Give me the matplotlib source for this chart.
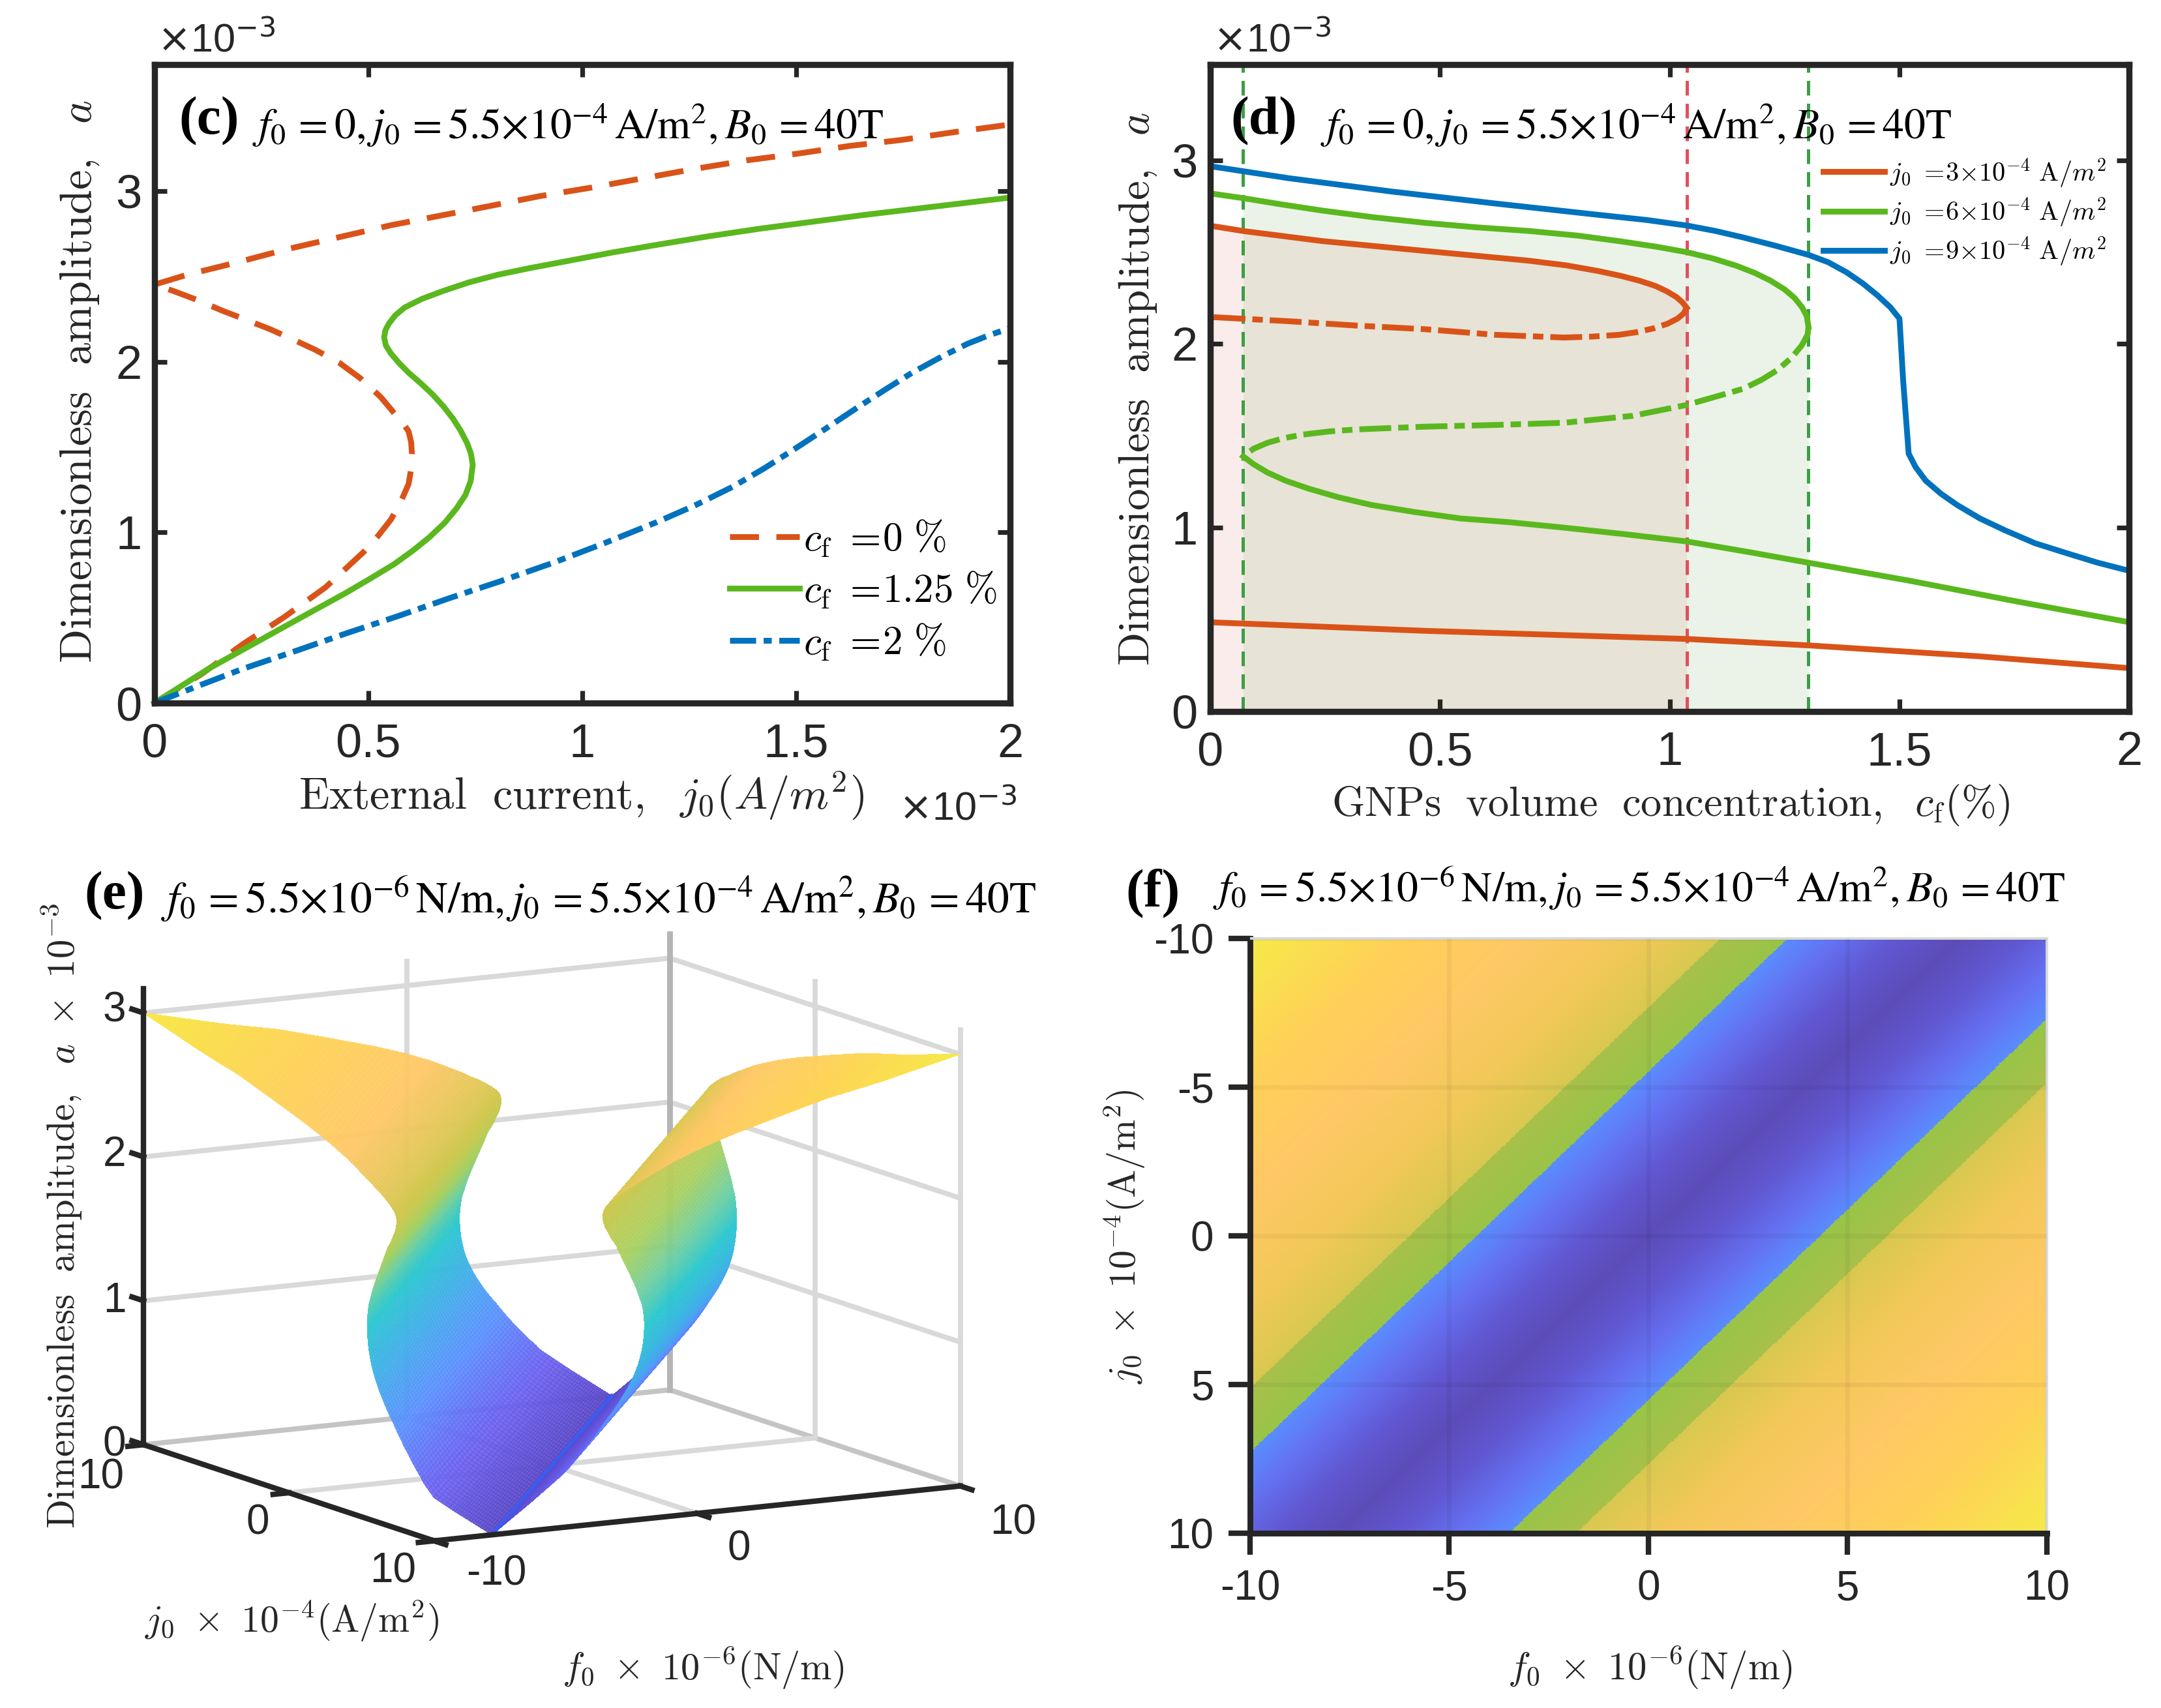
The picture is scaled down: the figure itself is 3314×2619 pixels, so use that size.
import numpy as np
import matplotlib
matplotlib.use('Agg')
import matplotlib.pyplot as plt
from matplotlib.colors import LinearSegmentedColormap

plt.rcParams['font.family'] = ['Liberation Sans', 'DejaVu Sans']
plt.rcParams['mathtext.fontset'] = 'cm'
plt.rcParams['axes.unicode_minus'] = False

W, H = 1568, 1239
DARK = '#262626'
ORANGE = '#D95319'
GREEN = '#5AB81E'
BLUE = '#0072BD'
LW = 3.2

# panel (c): current j0 (x 1e-3) and amplitude a (x 1e-3)
c_orange_x = [0, .110, .206, .303, .400, .489, .523, .553, .576, .594, .600, .602, .600, .594, .580, .561, .529, .481, .432, .376, .327, .271, .215, .158, .102, .045, 0,
              .077, .190, .311, .432, .553, .666, .779, .9, 1.02, 1.142, 1.263, 1.384, 1.505, 1.626, 1.747, 1.868, 2.0]
c_orange_y = [0, .169, .344, .503, .678, .885, .98, 1.076, 1.18, 1.283, 1.37, 1.459, 1.53, 1.592, 1.645, 1.697, 1.793, 1.904, 1.994, 2.07, 2.127, 2.19, 2.245, 2.30, 2.36, 2.414, 2.452,
              2.510, 2.58, 2.66, 2.73, 2.80, 2.855, 2.91, 2.97, 3.02, 3.075, 3.13, 3.18, 3.22, 3.265, 3.30, 3.345, 3.39]
c_green_x = [0, .126, .287, .36, .448, .505, .561, .605, .642, .678, .706, .727, .739, .744, .740, .731, .716, .698, .675, .65, .622, .594, .572, .553, .541, .537, .540, .548, .563, .585, .625, .674, .735, .803, .88, .965, 1.07, 1.174, 1.295, 1.416, 1.537, 1.658, 1.819, 2]
c_green_y = [0, .2, .424, .525, .646, .73, .815, .895, .97, 1.055, 1.14, 1.22, 1.299, 1.395, 1.46, 1.522, 1.595, 1.666, 1.74, 1.809, 1.875, 1.936, 1.992, 2.048, 2.095, 2.143, 2.185, 2.223, 2.272, 2.318, 2.368, 2.414, 2.465, 2.51, 2.55, 2.59, 2.64, 2.685, 2.735, 2.78, 2.82, 2.86, 2.908, 2.962]
c_blue_x = [0, .1, .206, .33, .448, .57, .69, .81, .932, 1.05, 1.174, 1.265, 1.352, 1.425, 1.497, 1.57, 1.642, 1.71, 1.771, 1.84, 1.9, 1.95, 2]
c_blue_y = [0, .098, .2, .305, .408, .51, .615, .715, .822, .935, 1.06, 1.16, 1.268, 1.375, 1.49, 1.61, 1.73, 1.84, 1.936, 2.03, 2.105, 2.155, 2.197]

# panel (d): concentration cf (%) and amplitude a (x 1e-3)
d_or_top_x = [0, .072, .245, .47, .695, .775, .845, .895, .935, .97, .995, 1.015, 1.028, 1.037]
d_or_top_y = [2.644, 2.615, 2.56, 2.506, 2.453, 2.428, 2.397, 2.37, 2.344, 2.315, 2.285, 2.255, 2.226, 2.197]
d_or_mid_x = [1.037, 1.03, 1.017, .995, .965, .93, .89, .83, .77, .62, .47, .32, .17, 0]
d_or_mid_y = [2.197, 2.165, 2.138, 2.11, 2.085, 2.065, 2.05, 2.04, 2.035, 2.05, 2.08, 2.10, 2.124, 2.147]
d_or_low_x = [0, .47, 1.037, 1.302, 1.67, 2]
d_or_low_y = [.485, .438, .394, .359, .3, .235]
d_gr_top_x = [0, .072, .155, .245, .355, .47, .58, .695, .8, .89, .97, 1.037, 1.095, 1.145, 1.185, 1.22, 1.25, 1.272, 1.288, 1.298, 1.302]
d_gr_top_y = [2.82, 2.794, 2.76, 2.726, 2.69, 2.659, 2.635, 2.615, 2.59, 2.56, 2.53, 2.5, 2.465, 2.426, 2.387, 2.344, 2.297, 2.25, 2.2, 2.153, 2.094]
d_gr_mid_x = [1.302, 1.3, 1.287, 1.265, 1.235, 1.2, 1.16, 1.037, .92, .77, .62, .47, .32, .26, .2, .16, .125, .095, .072]
d_gr_mid_y = [2.094, 2.05, 1.991, 1.925, 1.859, 1.805, 1.756, 1.668, 1.609, 1.571, 1.559, 1.55, 1.535, 1.524, 1.506, 1.487, 1.462, 1.43, 1.388]
d_gr_low_x = [.072, .095, .125, .165, .215, .28, .35, .445, .545, .65, .77, .9, 1.037, 1.17, 1.302, 1.52, 1.745, 2]
d_gr_low_y = [1.388, 1.345, 1.3, 1.255, 1.212, 1.165, 1.124, 1.085, 1.05, 1.03, 1.0, .965, .925, .868, .809, .712, .603, .485]
d_bl_x = [0, .17, .395, .62, .845, .95, 1.037, 1.10, 1.16, 1.23, 1.302, 1.345, 1.385, 1.42, 1.452, 1.48, 1.5, 1.508, 1.52, 1.535, 1.557, 1.59, 1.625, 1.675, 1.73, 1.795, 1.865, 1.93, 2]
d_bl_y = [2.968, 2.903, 2.83, 2.765, 2.703, 2.675, 2.645, 2.615, 2.58, 2.535, 2.485, 2.445, 2.39, 2.33, 2.265, 2.2, 2.138, 1.8, 1.403, 1.33, 1.256, 1.185, 1.124, 1.05, .985, .915, .86, .81, .765]
d_red_line = 1.037
d_green_lines = [.072, 1.302]

# panels (e), (f): amplitude a against distance from the valley line
sep_a = [0, .10, .20, .376, .55, .722, .87, 1.017, 1.16, 1.304, 1.42, 1.541, 1.73, 1.923, 2.03, 2.08, 2.129, 2.18, 2.22, 2.27, 2.318, 2.40, 2.49, 2.60, 2.70, 2.79, 2.86, 2.93, 3.0]
sep_s = [0, .75, 1.5, 2.75, 3.65, 4.4, 5.0, 5.45, 5.7, 5.8, 5.78, 5.65, 5.2, 4.7, 4.35, 4.25, 4.2, 4.25, 4.45, 4.85, 5.3, 6.2, 7.22, 9.0, 10.94, 12.7, 14.64, 16.2, 17.8]
j_slope = 0.78  # valley runs along f0 + 0.78 j0 = 0

surf_levels = [0, .1, .22, .33, .44, .52, .6, .72, .82, .92, 1]
surf_colors = ['#5a48c8', '#6a60f0', '#5a90ff', '#40b0e8', '#2cc8d0', '#70d0a0', '#a8d060', '#d0c850', '#ffc766', '#fdd555', '#f7e94a']

top_s = [0, 1.5, 3, 4.3, 4.3, 6, 6, 8, 11, 14, 17.8]
top_colors = ['#5c4cb8', '#6056d0', '#6470f0', '#5a8cff', '#98c448', '#a8c04a', '#d8c850', '#f0c858', '#ffc864', '#ffd058', '#f5ea48']

e_z_ticks = [0, 1, 2, 3]
e_ticks = [-10, 0, 10]


def box(x0, y0, x1, y1):
    return [x0 / W, 1 - y1 / H, (x1 - x0) / W, (y1 - y0) / H]


def fx(x):
    return x / W


def fy(y):
    return 1 - y / H


def style_box(ax, xt, yt, xl, yl):
    ax.set_xlim(*xl)
    ax.set_ylim(*yl)
    ax.set_xticks(xt)
    ax.set_xticklabels([f'{v:g}' for v in xt])
    ax.set_yticks(yt)
    ax.set_yticklabels([f'{v:g}' for v in yt])
    ax.tick_params(direction='in', length=7, width=2.6, top=True, right=True,
                   labelsize=26, labelcolor=DARK, color=DARK)
    ax.tick_params(axis='x', pad=11)
    ax.tick_params(axis='y', pad=7)
    for s in ax.spines.values():
        s.set_linewidth(3.4)
        s.set_color(DARK)


def set_labels(ax, xlabel, xpos, xsize, ylabel, ypos, ysize):
    ax.set_xlabel(xlabel, fontsize=xsize, color=DARK)
    ax.set_ylabel(ylabel, fontsize=ysize, color=DARK)
    ax.xaxis.set_label_coords(fx(xpos[0]), fy(xpos[1]), transform=fig.transFigure)
    ax.yaxis.set_label_coords(fx(ypos[0]), fy(ypos[1]), transform=fig.transFigure)
    ax.xaxis.label.set_va('center')
    ax.yaxis.label.set_va('center')


def panel_title(tag, tx, ty, formula, x, y, size=23.6):
    fig.text(fx(tx), fy(ty), tag, fontsize=30, fontweight='bold', family='Liberation Serif', va='center', color='k', zorder=20)
    fig.text(fx(x), fy(y), formula, fontsize=size, family='Liberation Serif', math_fontfamily='stix', va='center', color='k', zorder=20)


t_zero = r'$f_{0}\,=0,j_{0}\,=5.5{\times}10^{-4}\,\mathrm{A/m}^{2},B_{0}\,=40\mathrm{T}$'
t_full = r'$f_{0}\,=5.5{\times}10^{-6}\,\mathrm{N/m},j_{0}\,=5.5{\times}10^{-4}\,\mathrm{A/m}^{2},B_{0}\,=40\mathrm{T}$'

fig = plt.figure(figsize=(16.57, 13.095), dpi=200)

# (c)
ax_c = fig.add_axes(box(112, 47, 733, 510))
ax_c.plot(c_orange_x, c_orange_y, color=ORANGE, lw=LW, ls=(0, (5, 3)), label=r'$c_{\mathrm{f}}\ =\!0\ \%$', clip_on=False)
ax_c.plot(c_green_x, c_green_y, color=GREEN, lw=LW, label=r'$c_{\mathrm{f}}\ =\!1.25\ \%$', clip_on=False)
ax_c.plot(c_blue_x, c_blue_y, color=BLUE, lw=LW, ls=(0, (4.5, 1.3, 1.4, 1.3)), label=r'$c_{\mathrm{f}}\ =\!2\ \%$', clip_on=False)
style_box(ax_c, [0, .5, 1, 1.5, 2], [0, 1, 2, 3], (0, 2), (0, 3.74))
ax_c.legend(loc='lower right', bbox_to_anchor=(.985, .063), frameon=False, fontsize=22, handlelength=1.75,
            handletextpad=.1, labelspacing=.28, borderpad=0, borderaxespad=0)
set_labels(ax_c, r'$\mathrm{External\ \ current,}\ \ j_0(A/m^2)$', (422, 577), 24.6,
           r'$\mathrm{Dimensionless\ \ amplitude,}\ \ a$', (58, 277), 24.6)
fig.text(fx(114), fy(30), r'$\times$10$^{-3}$', fontsize=22, color=DARK, va='center', math_fontfamily='dejavusans')
fig.text(fx(652), fy(587), r'$\times$10$^{-3}$', fontsize=22, color=DARK, va='center', math_fontfamily='dejavusans')
panel_title('(c)', 130, 88, t_zero, 183, 91)

# (d)
ax_d = fig.add_axes(box(878, 47, 1545, 516))
ax_d.fill_between(d_or_top_x, 0, d_or_top_y, color='#d9534f', alpha=.11, lw=0)
ax_d.fill_between(d_gr_top_x[1:], 0, d_gr_top_y[1:], color='#6aa84f', alpha=.13, lw=0)
for xv in d_green_lines:
    ax_d.axvline(xv, color='#3c9e46', lw=1.8, ls=(0, (4.5, 2.5)))
ax_d.axvline(d_red_line, color='#e0505f', lw=1.8, ls=(0, (4.5, 2.5)))
dd = (0, (5.5, 1.2, 1.8, 1.2))
ax_d.plot(d_or_top_x, d_or_top_y, color=ORANGE, lw=LW, label=r'$j_0\ =\!3{\times}10^{-4}\ \mathrm{A}/m^2$')
ax_d.plot(d_or_mid_x, d_or_mid_y, color=ORANGE, lw=LW, ls=dd)
ax_d.plot(d_or_low_x, d_or_low_y, color=ORANGE, lw=LW)
ax_d.plot(d_gr_top_x, d_gr_top_y, color=GREEN, lw=LW, label=r'$j_0\ =\!6{\times}10^{-4}\ \mathrm{A}/m^2$')
ax_d.plot(d_gr_mid_x, d_gr_mid_y, color=GREEN, lw=LW, ls=dd)
ax_d.plot(d_gr_low_x, d_gr_low_y, color=GREEN, lw=LW)
ax_d.plot(d_bl_x, d_bl_y, color=BLUE, lw=LW, label=r'$j_0\ =\!9{\times}10^{-4}\ \mathrm{A}/m^2$')
style_box(ax_d, [0, .5, 1, 1.5, 2], [0, 1, 2, 3], (0, 2), (0, 3.52))
ax_d.legend(loc='upper right', bbox_to_anchor=(.975, .858), frameon=False, fontsize=14.5, handlelength=2.35,
            handletextpad=.2, labelspacing=.24, borderpad=0, borderaxespad=0)
set_labels(ax_d, r'$\mathrm{GNPs\ \ volume\ \ concentration,}\ \ c_{\mathrm{f}}(\%)$', (1212, 584), 23.2,
           r'$\mathrm{Dimensionless\ \ amplitude,}\ \ a$', (826, 282), 24.2)
fig.text(fx(880), fy(30), r'$\times$10$^{-3}$', fontsize=22, color=DARK, va='center', math_fontfamily='dejavusans')
panel_title('(d)', 893, 88, t_zero, 958, 91)

# (e)
cmap_surf = LinearSegmentedColormap.from_list('surf', list(zip(surf_levels, surf_colors)))
idx = np.arange(len(sep_a))
fine = np.linspace(0, len(sep_a) - 1, 240)
a_fine = np.interp(fine, idx, sep_a)
s_raw = np.interp(fine, idx, sep_s)
# soften the mesh outline around the folds only
pad = 4
kernel = np.ones(2 * pad + 1) / (2 * pad + 1)
s_pad = np.r_[np.full(pad, s_raw[0]), s_raw, np.full(pad, s_raw[-1])]
s_fine = np.where((a_fine > .4) & (a_fine < 2.9), np.convolve(s_pad, kernel, mode='valid'), s_raw)
t = np.linspace(0, 1, 50)

ax_e = fig.add_axes(box(51.3, 566.7, 731.3, 1246.7), projection='3d')
ax_e.patch.set_alpha(0)
ax_e.set_proj_type('ortho')
ax_e.view_init(elev=10.7, azim=-119.3)
ax_e.set_xlim(-10, 10, view_margin=0)
ax_e.set_ylim(10, -10, view_margin=0)
ax_e.set_zlim(0, 3.17, view_margin=0)
ax_e.set_box_aspect((438, 431, 337), zoom=1)
ax_e.set_xticks([])
ax_e.set_yticks([])
ax_e.set_zticks([])
ax_e.set_axis_off()
ax_e.computed_zorder = False

grid_c = '#d9d9d9'
grid_lw = 2.8
for z in e_z_ticks:
    ax_e.plot([-10, 10], [-10, -10], [z, z], color='#c4c4c4' if z == 0 else grid_c, lw=grid_lw, zorder=1)
    ax_e.plot([10, 10], [-10, 10], [z, z], color='#c4c4c4' if z == 0 else grid_c, lw=grid_lw, zorder=1)
ax_e.plot([0, 0], [-10, -10], [0, 3.17], color=grid_c, lw=grid_lw, zorder=1)
ax_e.plot([10, 10], [0, 0], [0, 3.17], color=grid_c, lw=grid_lw, zorder=1)
ax_e.plot([10, 10], [10, 10], [0, 3.17], color=grid_c, lw=grid_lw, zorder=1)
ax_e.plot([10, 10], [-10, -10], [0, 3.17], color='#b5b5b5', lw=grid_lw + .4, zorder=1)
ax_e.plot([0, 0], [-10, 10], [0, 0], color=grid_c, lw=grid_lw, zorder=1)
ax_e.plot([-10, 10], [0, 0], [0, 0], color=grid_c, lw=grid_lw, zorder=1)

rgba = cmap_surf(a_fine / 3.0)
rgba[:, 3] = .9
rgba = np.repeat(rgba[:, None, :], len(t), axis=1)
for sign in (-1, 1):
    j_lo = np.full_like(s_fine, -10.0)
    j_hi = np.full_like(s_fine, 10.0)
    if sign < 0:
        j_hi = np.minimum(10.0, (10 - s_fine) / j_slope)
    else:
        j_lo = np.maximum(-10.0, (s_fine - 10) / j_slope)
    J = j_lo[:, None] + (j_hi - j_lo)[:, None] * t[None, :]
    F = sign * s_fine[:, None] - j_slope * J
    A = np.repeat(a_fine[:, None], len(t), axis=1)
    ax_e.plot_surface(F, J, A, facecolors=rgba, rstride=1, cstride=1, shade=False,
                      linewidth=0, antialiased=False, zorder=2)

# bright valley edge on the floor
ax_e.plot([10 * j_slope, -10 * j_slope], [-10, 10], [0, 0], color='#3a5cf0', lw=2, zorder=2.5)

ax_e.plot([-10, -10], [-10, -10], [0, 3.17], color=DARK, lw=3, zorder=3)
ax_e.plot([-10, -10], [-10, 10], [0, 0], color=DARK, lw=3, zorder=3)
ax_e.plot([-10, 10], [10, 10], [0, 0], color=DARK, lw=3, zorder=3)
for z in e_z_ticks:
    ax_e.plot([-10, -10], [-10, -10.8], [z, z], color=DARK, lw=3, zorder=3)
for v in e_ticks:
    ax_e.plot([v, v], [10, 10.8], [0, 0], color=DARK, lw=3, zorder=3)
    ax_e.plot([-10.6, -10], [v, v], [0, 0], color=DARK, lw=3, zorder=3)

# tick labels of the 3D box, placed on the figure
for z, py in zip(e_z_ticks, [1048, 944, 838, 733]):
    fig.text(fx(83), fy(py), f'{z}', fontsize=23, color=DARK, ha='center', va='center')
for v, (px, py) in zip(e_ticks, [(360, 1142), (536, 1124), (735, 1105)]):
    fig.text(fx(px), fy(py), f'{v}', fontsize=23, color=DARK, ha='center', va='center')
for v, (px, py) in zip(e_ticks, [(73, 1072), (187, 1105), (285, 1140)]):
    fig.text(fx(px), fy(py), f'{abs(v)}', fontsize=23, color=DARK, ha='center', va='center')

fig.text(fx(45), fy(882), r'$\mathrm{Dimensionless\ \ amplitude,}\ \ a\ \times\ 10^{-3}$', fontsize=21.2, color=DARK,
         rotation=90, ha='center', va='center')
fig.text(fx(212), fy(1176), r'$j_0\ \times\ 10^{-4}(\mathrm{A/m}^2)$', fontsize=20.8, color=DARK, ha='center', va='center')
fig.text(fx(510), fy(1210), r'$f_0\ \times\ 10^{-6}(\mathrm{N/m})$', fontsize=21, color=DARK, ha='center', va='center')
panel_title('(e)', 61, 650, t_full, 117, 652, size=24.2)

# (f)
stops = np.array(top_s) / top_s[-1]
cmap_top = LinearSegmentedColormap.from_list('top', list(zip(stops, top_colors)), N=1024)
ff = np.linspace(-10, 10, 600)
jj = np.linspace(-10, 10, 600)
FF, JJ = np.meshgrid(ff, jj)
ax_f = fig.add_axes(box(907, 681, 1485, 1112))
ax_f.pcolormesh(FF, JJ, np.abs(FF + j_slope * JJ), cmap=cmap_top, vmin=0, vmax=top_s[-1], shading='auto', rasterized=True)
ax_f.set_xlim(-10, 10)
ax_f.set_ylim(10, -10)
ax_f.set_xticks([-10, -5, 0, 5, 10])
ax_f.set_yticks([-10, -5, 0, 5, 10])
ax_f.tick_params(direction='out', length=12, width=3, labelsize=23, labelcolor=DARK, color=DARK, pad=8)
ax_f.grid(color='k', alpha=.045, lw=2.5)
ax_f.set_axisbelow(False)
for side in ['left', 'bottom']:
    ax_f.spines[side].set_linewidth(3.2)
    ax_f.spines[side].set_color(DARK)
for side in ['top', 'right']:
    ax_f.spines[side].set_linewidth(1.5)
    ax_f.spines[side].set_color('#dddddd')
set_labels(ax_f, r'$f_0\ \times\ 10^{-6}(\mathrm{N/m})$', (1197, 1210), 21.2,
           r'$j_0\ \times\ 10^{-4}(\mathrm{A/m}^2)$', (816, 897), 20.8)
panel_title('(f)', 817, 648, t_full, 880, 645)

fig.savefig('out.png', dpi=200, facecolor='white')
